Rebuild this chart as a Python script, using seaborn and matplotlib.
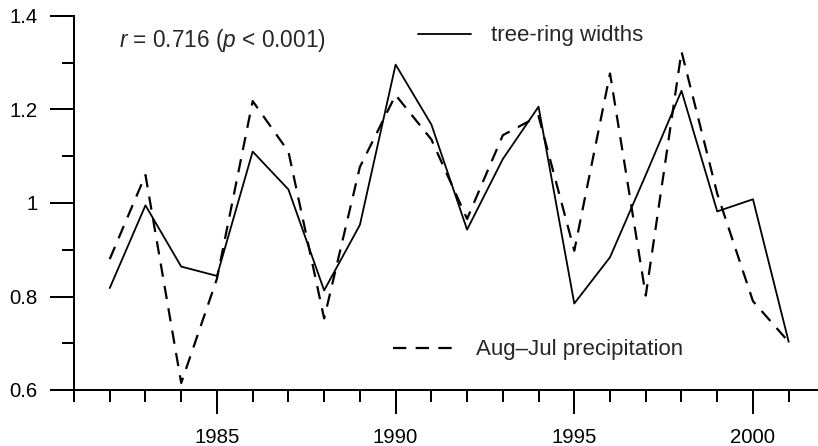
import matplotlib
matplotlib.use("Agg")
import matplotlib.pyplot as plt
import matplotlib.ticker as mticker
import pandas as pd
import seaborn as sns

# values
years = list(range(1982, 2002))
tree_ring = [0.818, 0.995, 0.864, 0.844, 1.110, 1.029, 0.813, 0.953, 1.296, 1.168,
             0.943, 1.094, 1.206, 0.785, 0.884, 1.060, 1.240, 0.982, 1.008, 0.703]
precip = [0.880, 1.060, 0.615, 0.838, 1.218, 1.110, 0.753, 1.077, 1.231, 1.136,
          0.966, 1.145, 1.186, 0.898, 1.277, 0.802, 1.324, 1.020, 0.790, 0.703]
labels = ["tree-ring widths", "Aug\u2013Jul precipitation"]
major_years = [1985, 1990, 1995, 2000]

df = pd.DataFrame({"year": years, "tree": tree_ring, "precip": precip})

sns.set_style("ticks")
plt.rcParams["font.family"] = ["Liberation Sans", "DejaVu Sans"]
plt.rcParams["mathtext.fontset"] = "custom"
plt.rcParams["mathtext.rm"] = "Liberation Sans"
plt.rcParams["mathtext.it"] = "Liberation Sans:italic"

fig = plt.figure(figsize=(8.18, 4.46), dpi=100)
ax = fig.add_axes([74 / 818, 1 - 390 / 446, 744 / 818, 374 / 446])

sns.lineplot(data=df, x="year", y="tree", ax=ax, color="black", lw=1.3, legend=False)
sns.lineplot(data=df, x="year", y="precip", ax=ax, color="black", lw=1.6, legend=False)
solid, dashed = ax.lines[0], ax.lines[1]
dashed.set_linestyle((0, (6.0, 4.2)))

ax.set_xlim(1981, 2001.82)
ax.set_ylim(0.6, 1.4)
ax.set_xlabel("")
ax.set_ylabel("")

ax.xaxis.set_major_locator(mticker.FixedLocator(major_years))
ax.xaxis.set_minor_locator(mticker.MultipleLocator(1))
ax.yaxis.set_major_locator(mticker.MultipleLocator(0.2))
ax.yaxis.set_minor_locator(mticker.MultipleLocator(0.1))
ax.yaxis.set_major_formatter(mticker.FuncFormatter(lambda v, p: "%g" % round(v, 2)))

for side in ["top", "right"]:
    ax.spines[side].set_visible(False)
for side in ["left", "bottom"]:
    ax.spines[side].set_linewidth(1.44)
    ax.spines[side].set_color("black")

ax.tick_params(which="major", length=17.3, width=1.44, color="black",
               labelsize=14.7, labelcolor="black")
ax.tick_params(which="minor", length=8.6, width=1.44, color="black")
ax.tick_params(axis="y", which="major", pad=9)
ax.tick_params(axis="x", which="major", pad=10)

ax.text(1982.26, 1.334, "$r$ = 0.716 ($p$ < 0.001)", fontsize=16.3,
        ha="left", va="baseline")

leg1 = ax.legend([solid], [labels[0]], loc="center left",
                 bbox_to_anchor=(0.4624, 0.947), frameon=False, borderpad=0,
                 borderaxespad=0, handlelength=2.4, handletextpad=0.9, fontsize=16)
ax.add_artist(leg1)
ax.legend([dashed], [labels[1]], loc="center left",
          bbox_to_anchor=(0.4288, 0.107), frameon=False, borderpad=0,
          borderaxespad=0, handlelength=2.7, handletextpad=1.05, fontsize=16)

fig.savefig("out.png", dpi=100)
